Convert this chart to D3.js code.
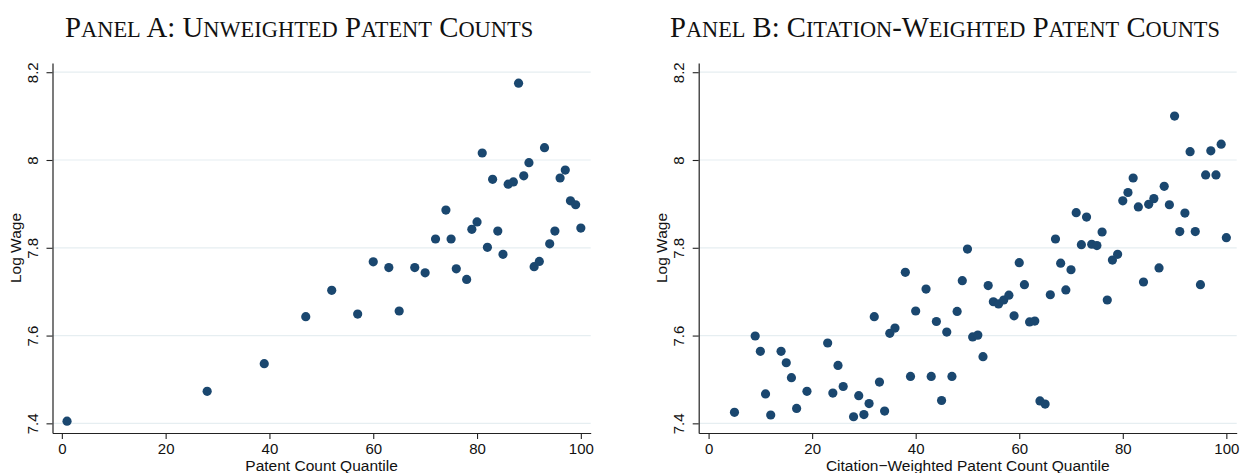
<!DOCTYPE html>
<html>
<head>
<meta charset="utf-8">
<script src="https://cdn.jsdelivr.net/npm/d3@7"></script>
<style>
  html, body { margin: 0; padding: 0; background: #fff; }
  svg { display: block; }
  .title { font-family: "Liberation Serif", "Times New Roman", serif; fill: #111; }
  .axis text { font-family: "Liberation Sans", Arial, sans-serif; font-size: 15px; fill: #111; }
  .axis-title { font-family: "Liberation Sans", Arial, sans-serif; font-size: 15.5px; fill: #111; }
</style>
</head>
<body>
<svg id="chart" width="1240" height="473"></svg>
<script>
// Panel A: unweighted patent count quantiles and mean log wage
const quantileA = [1, 28, 39, 47, 52, 57, 60, 63, 65, 68, 70, 72, 74, 75, 76, 78, 79, 80, 81, 82,
  83, 84, 85, 86, 87, 88, 89, 90, 91, 92, 93, 94, 95, 96, 97, 98, 99, 100];
const wageA = [7.405, 7.473, 7.536, 7.643, 7.703, 7.649, 7.768, 7.755, 7.656, 7.755, 7.743, 7.820,
  7.886, 7.820, 7.752, 7.728, 7.842, 7.859, 8.016, 7.801, 7.956, 7.838, 7.785, 7.945, 7.950, 8.175,
  7.964, 7.994, 7.757, 7.769, 8.028, 7.809, 7.838, 7.959, 7.977, 7.907, 7.898, 7.845];

// Panel B: citation-weighted patent count quantiles and mean log wage
const quantileB = [5, 9, 10, 11, 12, 14, 15, 16, 17, 19, 23, 24, 25, 26, 28, 29, 30, 31, 32, 33,
  34, 35, 36, 38, 39, 40, 42, 43, 44, 45, 46, 47, 48, 49, 50, 51, 52, 53, 54, 55, 56, 57, 58, 59,
  60, 61, 62, 63, 64, 65, 66, 67, 68, 69, 70, 71, 72, 73, 74, 75, 76, 77, 78, 79, 80, 81, 82, 83,
  84, 85, 86, 87, 88, 89, 90, 91, 92, 93, 94, 95, 96, 97, 98, 99, 100];
const wageB = [7.425, 7.599, 7.564, 7.467, 7.419, 7.564, 7.538, 7.504, 7.434, 7.473, 7.583, 7.469,
  7.532, 7.484, 7.415, 7.463, 7.420, 7.445, 7.643, 7.494, 7.428, 7.605, 7.617, 7.744, 7.507, 7.656,
  7.706, 7.507, 7.632, 7.452, 7.608, 7.507, 7.655, 7.725, 7.797, 7.597, 7.601, 7.552, 7.714, 7.677,
  7.672, 7.681, 7.692, 7.645, 7.766, 7.716, 7.631, 7.633, 7.451, 7.444, 7.693, 7.820, 7.765, 7.704,
  7.750, 7.880, 7.807, 7.870, 7.808, 7.805, 7.836, 7.681, 7.772, 7.785, 7.907, 7.926, 7.959, 7.893,
  7.722, 7.899, 7.912, 7.754, 7.940, 7.898, 8.100, 7.837, 7.879, 8.019, 7.837, 7.716, 7.966, 8.021,
  7.966, 8.036, 7.823];

// Axis ticks and labels
const xTicks = [0, 20, 40, 60, 80, 100];
const yTicks = [7.4, 7.6, 7.8, 8.0, 8.2];
const yTickLabels = ["7.4", "7.6", "7.8", "8", "8.2"];
const titles = ["Panel A: Unweighted Patent Counts", "Panel B: Citation-Weighted Patent Counts"];
const xTitles = ["Patent Count Quantile", "Citation\u2212Weighted Patent Count Quantile"];
const yTitle = "Log Wage";

const MARKER = "#1a476f";
const GRID = "#e6eef1";
const AXIS = "#222";
const SMALL_CAP = 0.78;

const svg = d3.select("#chart");

const panels = [
  { x: quantileA, y: wageA, left: 52.5, right: 590.7, xDom: [-1.8, 101.9], titleX: 65, titleW: 468,
    title: titles[0], xTitle: xTitles[0] },
  { x: quantileB, y: wageB, left: 698.7, right: 1236.7, xDom: [-1.91, 102.0], titleX: 670, titleW: 550,
    title: titles[1], xTitle: xTitles[1] }
];

const plotTop = 63, plotBottom = 433;
const yScale = d3.scaleLinear().domain([7.378, 8.221]).range([plotBottom, plotTop]);

// Split a string into runs of small-cap (lowercase) and full-size characters
function capRuns(s) {
  const runs = [];
  for (const ch of s) {
    const small = ch !== ch.toUpperCase();
    const last = runs[runs.length - 1];
    if (last && last.small === small) last.text += ch.toUpperCase();
    else runs.push({ small, text: ch.toUpperCase() });
  }
  return runs;
}

panels.forEach(p => {
  const g = svg.append("g");
  const x = d3.scaleLinear().domain(p.xDom).range([p.left, p.right]);

  // horizontal gridlines
  g.append("g").selectAll("line").data(yTicks).join("line")
    .attr("x1", p.left).attr("x2", p.right)
    .attr("y1", d => yScale(d)).attr("y2", d => yScale(d))
    .attr("stroke", GRID).attr("stroke-width", 1.2);

  // y axis with rotated labels
  const yAxis = g.append("g").attr("class", "axis")
    .attr("transform", `translate(${p.left},0)`)
    .call(d3.axisLeft(yScale).tickValues(yTicks).tickSize(6).tickSizeOuter(0)
      .tickFormat((d, i) => yTickLabels[i]));
  yAxis.select(".domain").attr("stroke", AXIS).attr("stroke-width", 1.2);
  yAxis.selectAll(".tick line").attr("stroke", AXIS).attr("stroke-width", 1.1);
  yAxis.selectAll(".tick text")
    .attr("x", null).attr("dy", null)
    .attr("text-anchor", "middle")
    .attr("transform", "translate(-14.5,0) rotate(-90)");

  // x axis
  const xAxis = g.append("g").attr("class", "axis")
    .attr("transform", `translate(0,${plotBottom})`)
    .call(d3.axisBottom(x).tickValues(xTicks).tickSize(6).tickSizeOuter(0).tickFormat(d3.format("d")));
  xAxis.select(".domain").attr("stroke", AXIS).attr("stroke-width", 1.2);
  xAxis.selectAll(".tick line").attr("stroke", AXIS).attr("stroke-width", 1.1);
  xAxis.selectAll(".tick text").attr("y", 20.5).attr("dy", null);

  // axis titles
  g.append("text").attr("class", "axis-title")
    .attr("text-anchor", "middle")
    .attr("transform", `translate(${p.left - 31.5},${(plotTop + plotBottom) / 2}) rotate(-90)`)
    .text(yTitle);
  g.append("text").attr("class", "axis-title")
    .attr("text-anchor", "middle")
    .attr("x", (p.left + p.right) / 2).attr("y", 470.5)
    .text(p.xTitle);

  // panel title in small caps, sized to its span
  const t = g.append("text").attr("class", "title")
    .attr("x", p.titleX).attr("y", 37)
    .style("font-size", "27px");
  t.selectAll("tspan").data(capRuns(p.title)).join("tspan")
    .attr("font-size", d => d.small ? `${SMALL_CAP}em` : null)
    .text(d => d.text);
  const w = t.node().getComputedTextLength();
  t.style("font-size", (27 * p.titleW / w).toFixed(2) + "px");

  // points
  g.append("g").selectAll("circle").data(p.x.map((q, i) => [q, p.y[i]])).join("circle")
    .attr("cx", d => x(d[0])).attr("cy", d => yScale(d[1]))
    .attr("r", 4.6).attr("fill", MARKER);
});
</script>
</body>
</html>
